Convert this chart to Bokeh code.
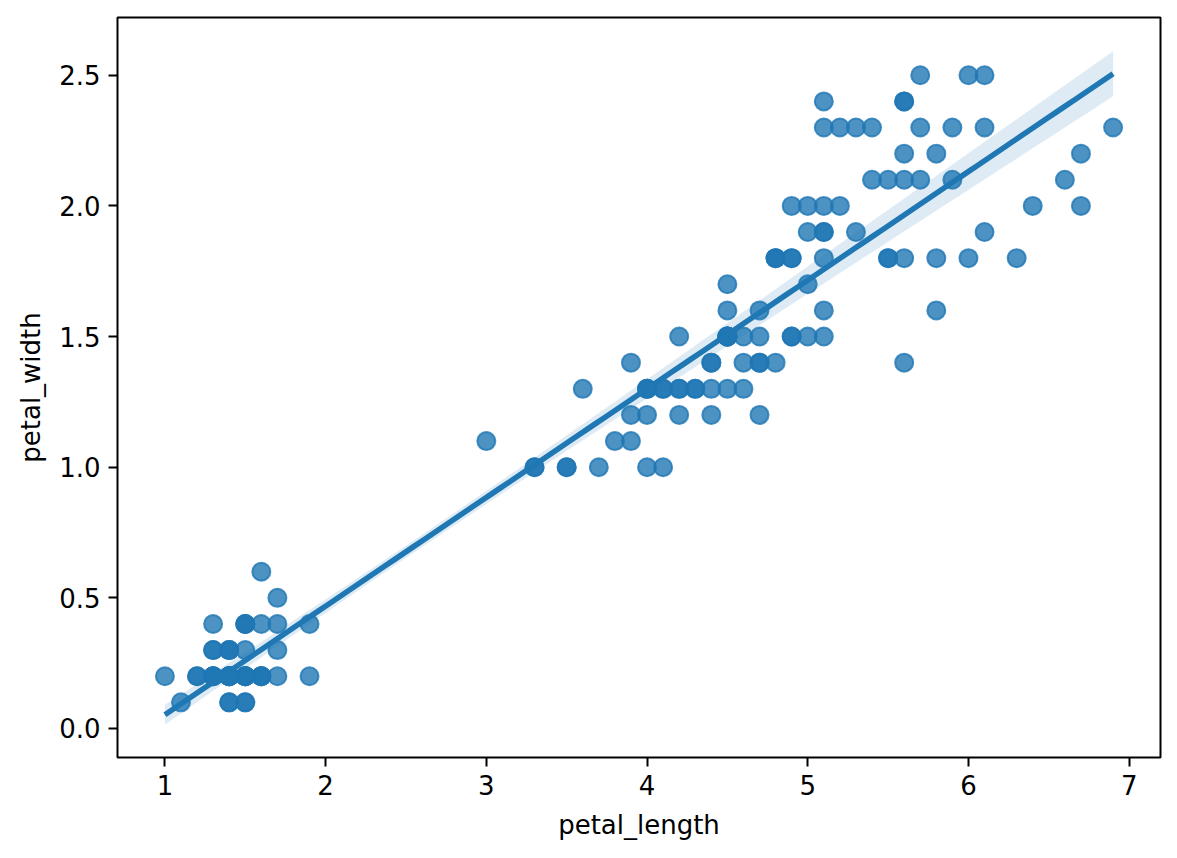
import numpy as np
from bokeh.plotting import figure
from bokeh.models import Range1d, FixedTicker, NumeralTickFormatter, ColumnDataSource
from bokeh.embed import file_html
from bokeh.resources import INLINE

petal_length = [
    1.4, 1.4, 1.3, 1.5, 1.4, 1.7, 1.4, 1.5, 1.4, 1.5, 1.5, 1.6, 1.4, 1.1, 1.2, 1.5, 1.3, 1.4, 1.7, 1.5,
    1.7, 1.5, 1.0, 1.7, 1.9, 1.6, 1.6, 1.5, 1.4, 1.6, 1.6, 1.5, 1.5, 1.4, 1.5, 1.2, 1.3, 1.4, 1.3, 1.5,
    1.3, 1.3, 1.3, 1.6, 1.9, 1.4, 1.6, 1.4, 1.5, 1.4,
    4.7, 4.5, 4.9, 4.0, 4.6, 4.5, 4.7, 3.3, 4.6, 3.9, 3.5, 4.2, 4.0, 4.7, 3.6, 4.4, 4.5, 4.1, 4.5, 3.9,
    4.8, 4.0, 4.9, 4.7, 4.3, 4.4, 4.8, 5.0, 4.5, 3.5, 3.8, 3.7, 3.9, 5.1, 4.5, 4.5, 4.7, 4.4, 4.1, 4.0,
    4.4, 4.6, 4.0, 3.3, 4.2, 4.2, 4.2, 4.3, 3.0, 4.1,
    6.0, 5.1, 5.9, 5.6, 5.8, 6.6, 4.5, 6.3, 5.8, 6.1, 5.1, 5.3, 5.5, 5.0, 5.1, 5.3, 5.5, 6.7, 6.9, 5.0,
    5.7, 4.9, 6.7, 4.9, 5.7, 6.0, 4.8, 4.9, 5.6, 5.8, 6.1, 6.4, 5.6, 5.1, 5.6, 6.1, 5.6, 5.5, 4.8, 5.4,
    5.6, 5.1, 5.1, 5.9, 5.7, 5.2, 5.0, 5.2, 5.4, 5.1,
]
petal_width = [
    0.2, 0.2, 0.2, 0.2, 0.2, 0.4, 0.3, 0.2, 0.2, 0.1, 0.2, 0.2, 0.1, 0.1, 0.2, 0.4, 0.4, 0.3, 0.3, 0.3,
    0.2, 0.4, 0.2, 0.5, 0.2, 0.2, 0.4, 0.2, 0.2, 0.2, 0.2, 0.4, 0.1, 0.2, 0.2, 0.2, 0.2, 0.1, 0.2, 0.2,
    0.3, 0.3, 0.2, 0.6, 0.4, 0.3, 0.2, 0.2, 0.2, 0.2,
    1.4, 1.5, 1.5, 1.3, 1.5, 1.3, 1.6, 1.0, 1.3, 1.4, 1.0, 1.5, 1.0, 1.4, 1.3, 1.4, 1.5, 1.0, 1.5, 1.1,
    1.8, 1.3, 1.5, 1.2, 1.3, 1.4, 1.4, 1.7, 1.5, 1.0, 1.1, 1.0, 1.2, 1.6, 1.5, 1.6, 1.5, 1.3, 1.3, 1.3,
    1.2, 1.4, 1.2, 1.0, 1.3, 1.2, 1.3, 1.3, 1.1, 1.3,
    2.5, 1.9, 2.1, 1.8, 2.2, 2.1, 1.7, 1.8, 1.8, 2.5, 2.0, 1.9, 2.1, 2.0, 2.4, 2.3, 1.8, 2.2, 2.3, 1.5,
    2.3, 2.0, 2.0, 1.8, 2.1, 1.8, 1.8, 1.8, 2.1, 1.6, 1.9, 2.0, 2.2, 1.5, 1.4, 2.3, 2.4, 1.8, 1.8, 2.1,
    2.4, 2.3, 1.9, 2.3, 2.5, 2.3, 1.9, 2.0, 2.3, 1.8,
]
x_ticks = [1, 2, 3, 4, 5, 6, 7]
y_ticks = [0.0, 0.5, 1.0, 1.5, 2.0, 2.5]

BLUE = "#1f77b4"
FONT = "DejaVu Sans"

# regression fit and 95% confidence band (heteroscedasticity-robust, close to a bootstrap band)
x = np.array(petal_length)
y = np.array(petal_width)
n = len(x)
X = np.column_stack([np.ones(n), x])
beta, *_ = np.linalg.lstsq(X, y, rcond=None)
resid = y - X @ beta
XtX_inv = np.linalg.inv(X.T @ X)
meat = X.T @ (X * (resid ** 2)[:, None])
cov = XtX_inv @ meat @ XtX_inv * n / (n - 2)
grid = np.linspace(x.min(), x.max(), 100)
G = np.column_stack([np.ones_like(grid), grid])
fit = G @ beta
se = np.sqrt(np.einsum("ij,jk,ik->i", G, cov, G))
lower = fit - 1.96 * se
upper = fit + 1.96 * se

p = figure(width=1169, height=850, output_backend="svg", toolbar_location=None,
           x_range=Range1d(0.705, 7.195), y_range=Range1d(-0.111, 2.721),
           min_border_left=117, min_border_right=9, min_border_top=17, min_border_bottom=93)
p.background_fill_color = "white"
p.border_fill_color = "white"
p.outline_line_color = "black"
p.outline_line_width = 2
p.xgrid.grid_line_color = None
p.ygrid.grid_line_color = None

pts = ColumnDataSource(dict(x=petal_length, y=petal_width))
p.scatter("x", "y", source=pts, size=18, fill_color=BLUE, fill_alpha=0.8,
          line_color=BLUE, line_alpha=0.8, line_width=2)

p.varea(x=grid, y1=lower, y2=upper, fill_color=BLUE, fill_alpha=0.15)
p.line(grid, fit, line_color=BLUE, line_width=5.5)

for ax in (p.xaxis[0], p.yaxis[0]):
    ax.axis_line_color = None
    ax.major_tick_line_color = "black"
    ax.major_tick_line_width = 2
    ax.major_tick_out = 9
    ax.major_tick_in = 0
    ax.minor_tick_line_color = None
    ax.major_label_text_font = FONT
    ax.major_label_text_font_size = "26px"
    ax.major_label_text_color = "black"
    ax.axis_label_text_font = FONT
    ax.axis_label_text_font_size = "26px"
    ax.axis_label_text_font_style = "normal"
    ax.axis_label_text_color = "black"

p.xaxis.ticker = FixedTicker(ticks=x_ticks)
p.yaxis.ticker = FixedTicker(ticks=y_ticks)
p.yaxis.formatter = NumeralTickFormatter(format="0.0")
p.xaxis.axis_label = "petal_length"
p.yaxis.axis_label = "petal_width"
p.xaxis.major_label_standoff = 8
p.yaxis.major_label_standoff = 8
p.xaxis.axis_label_standoff = 12
p.yaxis.axis_label_standoff = 10

open("out.html", "w").write(file_html(p, INLINE))
